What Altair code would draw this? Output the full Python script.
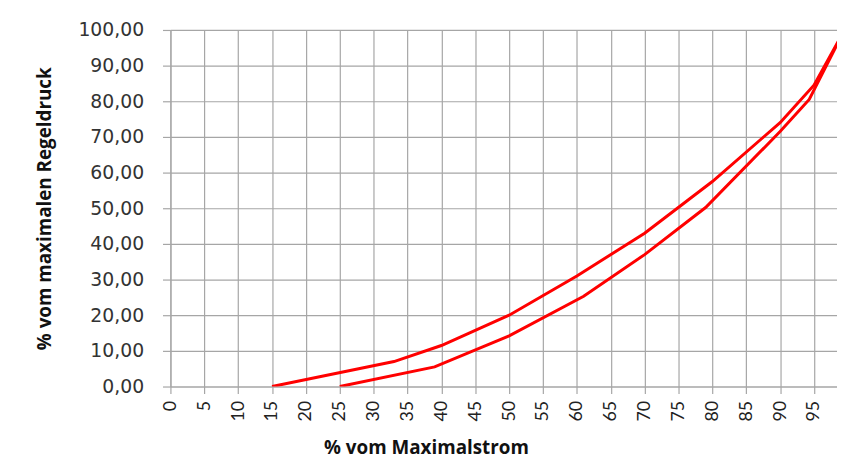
import altair as alt
import pandas as pd

# Upper curve (rising branch) and lower curve, % of max current vs % of max pressure
upper_x = [15, 33, 40, 50, 60, 70, 80, 90, 95, 99.5]
upper_y = [0, 7.0, 11.5, 20.0, 31.0, 43.0, 57.5, 74.0, 84.5, 100.0]
lower_x = [25, 39, 50, 61, 70, 79, 90, 94.3, 99.5]
lower_y = [0, 5.5, 14.2, 25.3, 37.0, 50.2, 71.5, 80.5, 100.0]

x_ticks = list(range(0, 100, 5))
y_ticks = list(range(0, 101, 10))

rows = []
for i, (a, b) in enumerate(zip(upper_x, upper_y)):
    rows.append({"strom": a, "druck": b, "kurve": "oben", "ord": i})
for i, (a, b) in enumerate(zip(lower_x, lower_y)):
    rows.append({"strom": a, "druck": b, "kurve": "unten", "ord": i})
df = pd.DataFrame(rows)

chart = alt.Chart(df).mark_line(color="#ff0000", strokeWidth=3, clip=True).encode(
    x=alt.X("strom:Q",
            scale=alt.Scale(domain=[0, 98.4], nice=False, zero=False),
            axis=alt.Axis(values=x_ticks, labelAngle=270, title="% vom Maximalstrom",
                          titleX=258, titleY=68, titleAlign="center", titleBaseline="alphabetic",
                          labelFont="Lato", labelFontSize=18, labelColor="#222222",
                          labelPadding=7, tickSize=7, labelFlush=False, labelOverlap=False,
                          titleFont="Open Sans", titleFontSize=19, titleFontWeight="bold",
                          titleColor="#111111")),
    y=alt.Y("druck:Q",
            scale=alt.Scale(domain=[0, 100], nice=False),
            axis=alt.Axis(values=y_ticks, title="% vom maximalen Regeldruck",
                          labelExpr="replace(format(datum.value, '.2f'), '.', ',')",
                          labelFont="DejaVu Sans", labelFontSize=19, labelColor="#333333",
                          labelPadding=19, tickSize=8, labelFlush=False,
                          titleX=-127, titleY=180, titleAngle=270, titleAlign="center",
                          titleBaseline="middle",
                          titleFont="Open Sans", titleFontSize=19, titleFontWeight="bold",
                          titleColor="#111111")),
    detail="kurve:N",
    order="ord:Q",
).properties(
    width=673,
    height=360,
    autosize=alt.AutoSizeParams(type="none"),
    padding={"left": 164, "top": 20, "right": 0, "bottom": 72},
).configure_axis(
    gridColor="#a6a6a6", gridWidth=1.2, domainColor="#a6a6a6", tickColor="#a6a6a6",
    domainWidth=1.2, tickWidth=1.2,
).configure_view(stroke=None)

chart.save("out.html", embed_options={"renderer": "svg", "actions": False})
